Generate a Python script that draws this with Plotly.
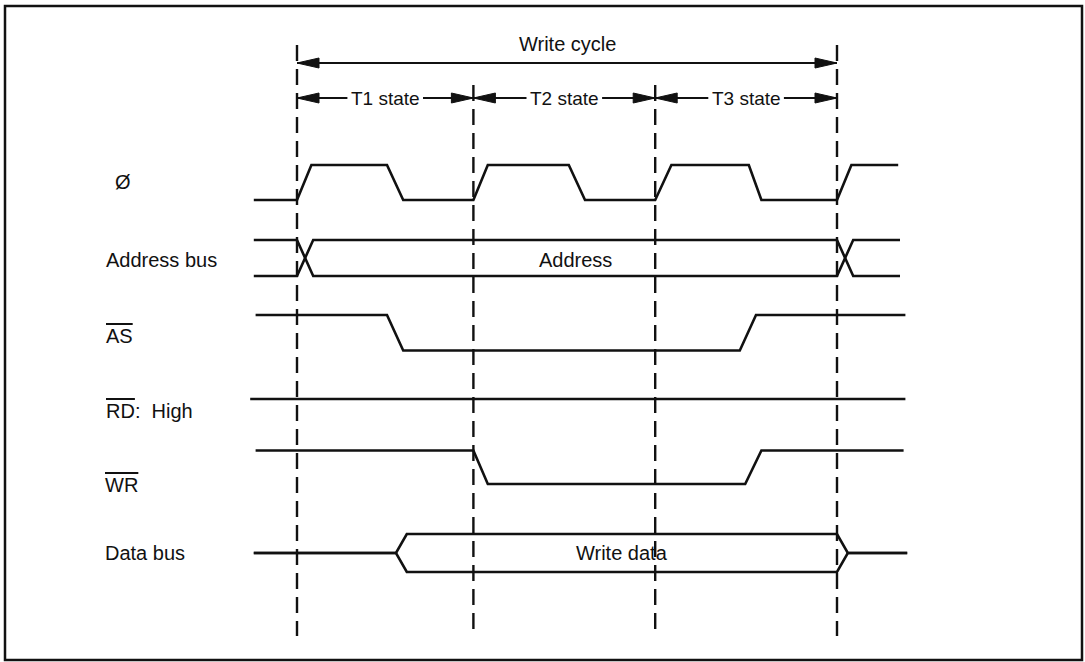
import plotly.graph_objects as go

# ---------------- data (time: 1 T-state ~ 100 units) ----------------
STATE_NAMES = ["T1 state", "T2 state", "T3 state"]
STATE_BOUNDS = [0, 98, 199, 300]
CYCLE_LABEL = "Write cycle"

CLK_T = [-24, 0, 8, 50, 59, 98, 106, 151, 160, 199, 208, 251, 258, 300, 308, 334]
CLK_V = [0, 0, 1, 1, 0, 0, 1, 1, 0, 0, 1, 1, 0, 0, 1, 1]

ADDR_T = [-24, 0, 9, 300, 309, 335]
ADDR_A = [1, 1, 0, 0, 1, 1]
ADDR_B = [0, 0, 1, 1, 0, 0]
ADDR_TEXT = "Address"

AS_T = [-23, 50, 59, 246, 255, 338]
AS_V = [1, 1, 0, 0, 1, 1]

RD_T = [-26, 338]
RD_V = [1, 1]

WR_T = [-23, 98, 106, 249, 258, 337]
WR_V = [1, 1, 0, 0, 1, 1]

DATA_T = [-24, 55, 61, 300, 306, 339]
DATA_UP = [0.5, 0.5, 1, 1, 0.5, 0.5]
DATA_DN = [0.5, 0.5, 0, 0, 0.5, 0.5]
DATA_TEXT = "Write data"

SIGNAL_LABELS = ["Ø", "Address bus", "AS", "RD", "WR", "Data bus"]

# ---------------- layout constants ----------------
W, H = 1085, 662
X0_PX, PX_PER_T = 297.0, 1.8
XR = [(0 - X0_PX) / PX_PER_T, (W - X0_PX) / PX_PER_T]
# row: (y of level 0, y of level 1) in pixel-like y units
ROWS = {
    "clk": (200, 165),
    "addr": (276, 240),
    "as": (350.5, 315),
    "rd": (434, 399),
    "wr": (484, 450.5),
    "data": (572, 534),
}
INK = "#111111"
LW = 2.6
FONT = "Liberation Sans, Arial, sans-serif"
FS = 20


def ymap(row, vals):
    lo, hi = ROWS[row]
    return [lo - v * (lo - hi) for v in vals]


fig = go.Figure()


def wave(t, v, row):
    fig.add_trace(go.Scatter(x=t, y=ymap(row, v), mode="lines",
                             line=dict(color=INK, width=LW), hoverinfo="skip",
                             showlegend=False))


wave(CLK_T, CLK_V, "clk")
wave(ADDR_T, ADDR_A, "addr")
wave(ADDR_T, ADDR_B, "addr")
wave(AS_T, AS_V, "as")
wave(RD_T, RD_V, "rd")
wave(WR_T, WR_V, "wr")
wave(DATA_T, DATA_UP, "data")
wave(DATA_T, DATA_DN, "data")

# dashed state boundaries
for i, b in enumerate(STATE_BOUNDS):
    top = 45 if i in (0, len(STATE_BOUNDS) - 1) else 85
    fig.add_trace(go.Scatter(x=[b, b], y=[top, 636], mode="lines",
                             line=dict(color=INK, width=2.4, dash="16px,8px"),
                             hoverinfo="skip", showlegend=False))

HEAD_L = 22 / PX_PER_T
HEAD_H = 5.0


def arrow_seg(x_from, x_to, y):
    fig.add_trace(go.Scatter(x=[x_from, x_to], y=[y, y], mode="lines",
                             line=dict(color=INK, width=2.0), hoverinfo="skip",
                             showlegend=False))


def head(tip, direction, y):
    base = tip - direction * HEAD_L
    fig.add_trace(go.Scatter(x=[tip, base, base, tip], y=[y, y - HEAD_H, y + HEAD_H, y],
                             mode="lines", fill="toself", fillcolor=INK,
                             line=dict(color=INK, width=1), hoverinfo="skip",
                             showlegend=False))


# Write cycle arrow
Y_CYC = 63
arrow_seg(STATE_BOUNDS[0], STATE_BOUNDS[-1], Y_CYC)
head(STATE_BOUNDS[0], -1, Y_CYC)
head(STATE_BOUNDS[-1], 1, Y_CYC)
fig.add_annotation(x=(STATE_BOUNDS[0] + STATE_BOUNDS[-1]) / 2, y=44, text=CYCLE_LABEL,
                   showarrow=False, font=dict(family=FONT, size=FS, color=INK))

# State arrows
Y_ST = 98
GAP = 21
for i, name in enumerate(STATE_NAMES):
    a, b = STATE_BOUNDS[i], STATE_BOUNDS[i + 1]
    mid = (a + b) / 2
    arrow_seg(a, mid - GAP, Y_ST)
    arrow_seg(mid + GAP, b, Y_ST)
    head(a, -1, Y_ST)
    head(b, 1, Y_ST)
    fig.add_annotation(x=mid, y=Y_ST, text=name, showarrow=False,
                       font=dict(family=FONT, size=FS - 1, color=INK))

# bus texts
fig.add_annotation(x=(ADDR_T[2] + ADDR_T[3]) / 2, y=sum(ROWS["addr"]) / 2 + 2, text=ADDR_TEXT,
                   showarrow=False, font=dict(family=FONT, size=FS, color=INK))
fig.add_annotation(x=(DATA_T[2] + DATA_T[3]) / 2, y=sum(ROWS["data"]) / 2, text=DATA_TEXT,
                   showarrow=False, font=dict(family=FONT, size=FS, color=INK))

# signal labels (paper x, pixel-like y)
OL = "<span style='text-decoration:overline'>%s</span>"
label_specs = [
    (SIGNAL_LABELS[0], 123, 182, "center"),
    (SIGNAL_LABELS[1], 104, 260, "left"),
    (OL % SIGNAL_LABELS[2], 104, 336, "left"),
    (OL % SIGNAL_LABELS[3] + ":  High", 104, 411, "left"),
    (OL % SIGNAL_LABELS[4], 103, 485, "left"),
    (SIGNAL_LABELS[5], 103, 553, "left"),
]
for txt, xp, yp, anc in label_specs:
    fig.add_annotation(x=xp / W, xref="paper", y=yp, text=txt, showarrow=False,
                       xanchor=anc, font=dict(family=FONT, size=FS, color=INK))

# frame
fig.add_shape(type="rect", xref="paper", yref="paper",
              x0=5 / W, x1=1082 / W, y0=1 - 660 / H, y1=1 - 6 / H,
              line=dict(color=INK, width=2.5))

fig.update_layout(
    width=W, height=H, margin=dict(l=0, r=0, t=0, b=0),
    paper_bgcolor="white", plot_bgcolor="white",
    xaxis=dict(range=XR, visible=False, fixedrange=True),
    yaxis=dict(range=[H, 0], visible=False, fixedrange=True),
    showlegend=False,
)
fig.write_html("out.html", config={"displayModeBar": False},
               post_script="document.body.style.margin='0px';document.body.style.overflow='hidden';")
